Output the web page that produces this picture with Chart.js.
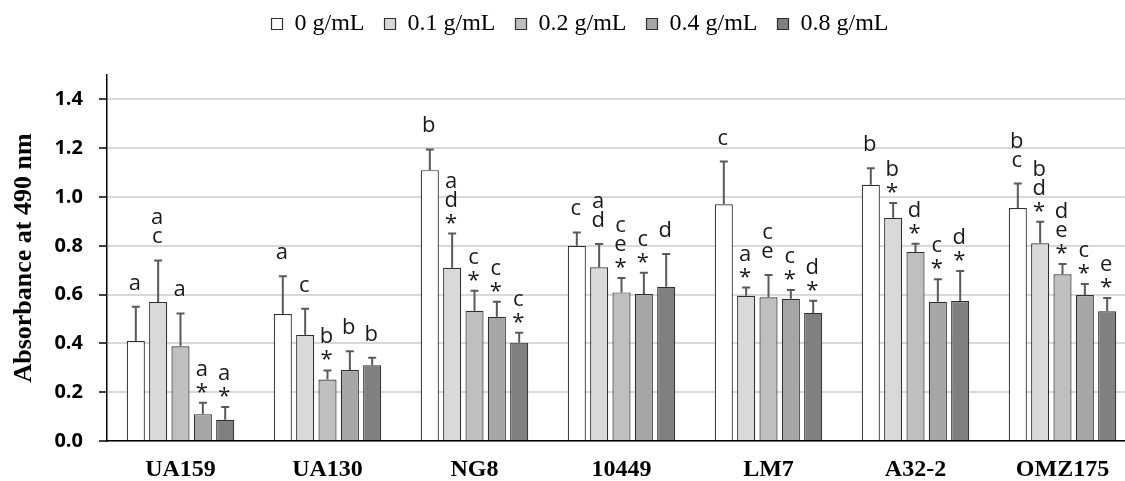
<!DOCTYPE html>
<html>
<head>
<meta charset="utf-8">
<script src="https://cdn.jsdelivr.net/npm/chart.js@4/dist/chart.umd.min.js"></script>
<style>
  html, body { margin: 0; padding: 0; background: #fff; overflow: hidden; }
  #wrap { width: 1136px; height: 481px; }
</style>
</head>
<body>
<div id="wrap"><canvas id="myChart"></canvas></div>
<script>
const strains = ['UA159', 'UA130', 'NG8', '10449', 'LM7', 'A32-2', 'OMZ175'];
const concentrations = ['0 g/mL', '0.1 g/mL', '0.2 g/mL', '0.4 g/mL', '0.8 g/mL'];
const yTicks = [0, 0.2, 0.4, 0.6, 0.8, 1.0, 1.2, 1.4];

// mean absorbance per concentration
const abs00 = [0.41, 0.52, 1.11, 0.80, 0.97, 1.05, 0.955];
const abs01 = [0.57, 0.435, 0.71, 0.712, 0.595, 0.915, 0.81];
const abs02 = [0.388, 0.252, 0.534, 0.609, 0.589, 0.775, 0.683];
const abs04 = [0.11, 0.291, 0.509, 0.602, 0.583, 0.571, 0.598];
const abs08 = [0.087, 0.31, 0.403, 0.632, 0.525, 0.574, 0.532];

// standard deviations (upper error bars)
const sd00 = [0.14, 0.155, 0.085, 0.055, 0.175, 0.068, 0.10];
const sd01 = [0.17, 0.107, 0.14, 0.095, 0.034, 0.06, 0.089];
const sd02 = [0.135, 0.037, 0.082, 0.059, 0.091, 0.033, 0.042];
const sd04 = [0.047, 0.077, 0.062, 0.088, 0.036, 0.092, 0.045];
const sd08 = [0.052, 0.031, 0.041, 0.134, 0.05, 0.123, 0.054];

// significance letters, one character per line, top to bottom
const sig00 = ['a', 'a', 'b', 'c', 'c', 'b', 'bc'];
const sig01 = ['ac', 'c', 'ad*', 'ad', 'a*', 'b*', 'bd*'];
const sig02 = ['a', 'b*', 'c*', 'ce*', 'ce', 'd*', 'de*'];
const sig04 = ['a*', 'b', 'c*', 'c*', 'c*', 'c*', 'c*'];
const sig08 = ['a*', 'b', 'c*', 'd', 'd*', 'd*', 'e*'];

const colors = ['#ffffff', '#d9d9d9', '#bfbfbf', '#a6a6a6', '#808080'];
const means = [abs00, abs01, abs02, abs04, abs08];
const sds = [sd00, sd01, sd02, sd04, sd08];
const sigs = [sig00, sig01, sig02, sig04, sig08];

const errorBars = {
    id: 'errorBars',
    afterDatasetsDraw(chart) {
        const ctx = chart.ctx;
        const y = chart.scales.y;
        ctx.save();
        chart.data.datasets.forEach((ds, di) => {
            const meta = chart.getDatasetMeta(di);
            meta.data.forEach((bar, i) => {
                const top = y.getPixelForValue(ds.data[i] + ds.sd[i]);
                const x = bar.x;
                ctx.strokeStyle = '#5a5a5a';
                ctx.lineWidth = 2;
                ctx.beginPath();
                ctx.moveTo(x, bar.y);
                ctx.lineTo(x, top);
                ctx.moveTo(x - 4, top);
                ctx.lineTo(x + 4, top);
                ctx.stroke();

                // letters above the cap
                ctx.fillStyle = '#1a1a1a';
                ctx.font = '22px "Open Sans"';
                ctx.textAlign = 'center';
                ctx.textBaseline = 'alphabetic';
                const lines = ds.sig[i].split('');
                let base;
                let k = lines.length - 1;
                if (lines[k] === '*') {
                    const m = ctx.measureText('*');
                    const c = top - 15;
                    ctx.fillText('*', x - 1, c + (m.actualBoundingBoxAscent - m.actualBoundingBoxDescent) / 2);
                    base = top - 27;
                    k--;
                } else {
                    base = top - 17;
                }
                for (; k >= 0; k--) {
                    ctx.fillText(lines[k], x - 1, base);
                    base -= 19;
                }
            });
        });
        ctx.restore();
    }
};

const legendGap = {
    id: 'legendGap',
    beforeInit(chart) {
        const lg = chart.legend;
        const fit = lg.fit;
        lg.fit = function () {
            fit.bind(lg)();
            this.height += 21;
        };
        const draw = lg.draw;
        lg.draw = function (area) {
            this.ctx.save();
            this.ctx.translate(12, -8);
            draw.call(lg, area);
            this.ctx.restore();
        };
    }
};

new Chart(document.getElementById('myChart'), {
    type: 'bar',
    data: {
        labels: strains,
        datasets: concentrations.map((c, i) => ({
            label: c,
            data: means[i],
            sd: sds[i],
            sig: sigs[i],
            backgroundColor: colors[i],
            borderColor: '#303030',
            borderWidth: 1.2,
            categoryPercentage: 0.76,
            barPercentage: 0.81
        }))
    },
    options: {
        responsive: true,
        maintainAspectRatio: false,
        animation: false,
        plugins: {
            legend: {
                position: 'top',
                labels: {
                    color: '#000',
                    boxWidth: 11,
                    boxHeight: 11,
                    padding: 20,
                    font: { family: '"Liberation Serif"', size: 24 }
                }
            },
            tooltip: { enabled: false }
        },
        scales: {
            x: {
                grid: { display: false, drawTicks: false },
                border: { color: '#000', width: 1.5 },
                ticks: {
                    color: '#000',
                    padding: 14,
                    font: { family: '"Liberation Serif"', size: 24, weight: 'bold' }
                },
                afterFit(scale) { scale.height = 40; }
            },
            y: {
                min: 0,
                max: 1.5,
                afterBuildTicks(scale) {
                    scale.ticks = yTicks.map(v => ({ value: v }));
                },
                grid: {
                    color: '#d9d9d9',
                    lineWidth: 2,
                    borderDash: [11, 5],
                    tickColor: '#000',
                    tickBorderDash: [],
                    tickWidth: 1.5,
                    tickLength: 8
                },
                border: { color: '#000', width: 1.5 },
                ticks: {
                    color: '#000',
                    padding: 16,
                    font: { family: '"Open Sans"', size: 20, weight: 'bold' },
                    callback: v => v.toFixed(1)
                },
                title: {
                    display: true,
                    text: 'Absorbance at 490 nm',
                    color: '#000',
                    padding: { top: 9, bottom: 0 },
                    font: { family: '"Liberation Serif"', size: 26, weight: 'bold' }
                },
                afterFit(scale) { scale.width = 107; }
            }
        }
    },
    plugins: [errorBars, legendGap]
});
</script>
</body>
</html>
